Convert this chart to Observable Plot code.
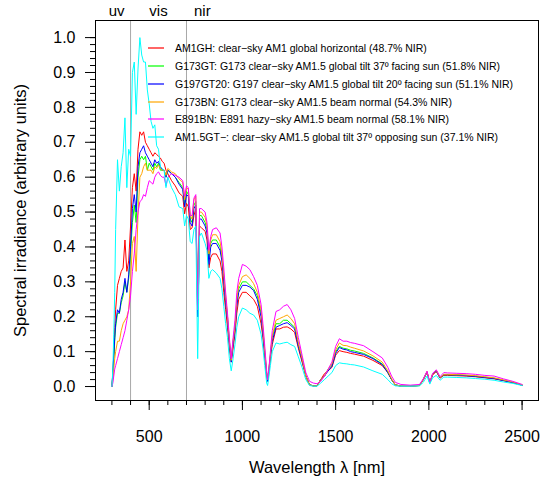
<!DOCTYPE html>
<html><head><meta charset="utf-8">
<script src="https://cdn.jsdelivr.net/npm/d3@7"></script>
<script src="https://cdn.jsdelivr.net/npm/@observablehq/plot@0.6"></script>
<style>
body{margin:0;background:#fff;}
#wrap{position:relative;width:547px;height:492px;font-family:"Liberation Sans",Arial,Helvetica,sans-serif;}
#legend{position:absolute;left:148px;top:39.4px;font-size:10.5px;color:#000;}
.row{height:17.8px;display:flex;align-items:center;white-space:nowrap;}
.sw{display:inline-block;width:16px;height:2px;margin-right:11px;opacity:0.6;}
</style></head><body><div id="wrap"></div>
<script>
const wavelength = [
  300,305,310,315,320,
  330,340,350,360,370,380,390,400,410,420,430,440,450,460,470,480,490,500,510,520,530,540,550,560,570,580,590,600,
  620,640,660,680,
  690,700,710,720,730,740,750,760,
  765,770,780,
  800,810,820,830,840,
  860,880,890,900,910,920,930,940,950,960,970,980,
  1000,1020,1040,1060,1080,1100,
  1110,1120,1130,1135,1140,1150,1160,
  1180,1200,1220,1240,1260,1280,1300,1320,1340,1360,1380,1400,
  1420,1440,1460,1480,1500,1520,1540,1560,1580,1600,
  1650,1700,1750,1780,1800,1820,1850,1900,1950,1970,1990,2005,2020,2040,2060,2080,2100,
  2150,2200,2250,2300,2350,2400,2450,2500
];
const AM1GH = [
  0,0.04,0.09,0.17,0.22,
  0.29,0.31,0.33,0.34,0.42,0.33,0.36,0.46,0.57,0.61,0.56,0.68,0.73,0.72,0.73,0.70,0.69,0.68,0.67,0.66,0.67,0.665,0.66,0.655,0.645,0.64,0.62,0.61,
  0.59,0.575,0.555,0.545,
  0.495,0.525,0.515,0.45,0.455,0.49,0.51,0.20,
  0.30,0.46,0.455,
  0.445,0.42,0.34,0.37,0.38,
  0.38,0.36,0.33,0.27,0.22,0.17,0.11,0.07,0.11,0.15,0.21,0.25,
  0.27,0.27,0.26,0.25,0.23,0.18,
  0.14,0.08,0.03,0.015,0.03,0.08,0.12,
  0.165,0.165,0.17,0.171,0.165,0.155,0.11,0.07,0.03,0.005,0.002,0.002,
  0.02,0.037,0.045,0.055,0.09,0.103,0.1,0.098,0.095,0.093,
  0.087,0.075,0.06,0.04,0.02,0.005,0.001,0.001,0.003,0.02,0.04,0.01,0.033,0.043,0.024,0.032,0.032,
  0.031,0.03,0.028,0.025,0.022,0.017,0.011,0.004
];
const G173GT = [
  0,0.03,0.08,0.13,0.17,
  0.21,0.21,0.24,0.26,0.30,0.27,0.31,0.38,0.47,0.52,0.47,0.60,0.65,0.66,0.65,0.66,0.62,0.64,0.63,0.62,0.64,0.63,0.64,0.62,0.62,0.62,0.60,0.62,
  0.61,0.60,0.585,0.57,
  0.52,0.56,0.55,0.48,0.47,0.52,0.53,0.22,
  0.32,0.49,0.49,
  0.47,0.45,0.37,0.41,0.42,
  0.42,0.40,0.37,0.31,0.25,0.20,0.13,0.08,0.13,0.17,0.24,0.28,
  0.30,0.30,0.29,0.28,0.26,0.21,
  0.16,0.10,0.04,0.02,0.04,0.09,0.14,
  0.18,0.18,0.19,0.19,0.18,0.17,0.12,0.08,0.03,0.005,0.002,0.002,
  0.02,0.03,0.05,0.06,0.10,0.115,0.11,0.108,0.104,0.102,
  0.095,0.082,0.065,0.04,0.02,0.005,0.001,0.001,0.003,0.02,0.042,0.01,0.035,0.045,0.025,0.034,0.034,
  0.033,0.032,0.03,0.027,0.024,0.018,0.012,0.004
];
const G197GT20 = [
  0,0.04,0.09,0.14,0.18,
  0.22,0.21,0.25,0.27,0.31,0.27,0.32,0.40,0.51,0.55,0.50,0.63,0.67,0.68,0.69,0.67,0.66,0.65,0.64,0.63,0.65,0.64,0.645,0.63,0.62,0.62,0.60,0.62,
  0.61,0.60,0.58,0.565,
  0.515,0.55,0.545,0.47,0.46,0.51,0.52,0.20,
  0.30,0.48,0.48,
  0.46,0.44,0.35,0.40,0.41,
  0.41,0.39,0.36,0.30,0.24,0.19,0.12,0.07,0.12,0.16,0.23,0.27,
  0.29,0.29,0.285,0.275,0.25,0.20,
  0.15,0.09,0.035,0.015,0.035,0.085,0.13,
  0.17,0.175,0.18,0.183,0.175,0.165,0.115,0.075,0.03,0.005,0.002,0.002,
  0.02,0.03,0.045,0.058,0.095,0.112,0.107,0.105,0.1,0.098,
  0.092,0.08,0.063,0.04,0.02,0.005,0.001,0.001,0.003,0.02,0.042,0.01,0.035,0.045,0.025,0.034,0.034,
  0.033,0.031,0.029,0.026,0.023,0.017,0.011,0.004
];
const G173BN = [
  0,0.02,0.05,0.08,0.10,
  0.13,0.13,0.16,0.18,0.19,0.20,0.22,0.30,0.41,0.43,0.33,0.49,0.60,0.61,0.63,0.64,0.62,0.62,0.62,0.61,0.63,0.625,0.635,0.625,0.62,0.62,0.605,0.625,
  0.615,0.61,0.595,0.585,
  0.535,0.57,0.565,0.49,0.48,0.535,0.545,0.22,
  0.32,0.50,0.50,
  0.485,0.46,0.38,0.42,0.435,
  0.435,0.415,0.38,0.32,0.26,0.20,0.13,0.075,0.13,0.17,0.25,0.29,
  0.315,0.32,0.31,0.295,0.27,0.22,
  0.165,0.10,0.04,0.02,0.04,0.09,0.145,
  0.19,0.195,0.2,0.205,0.195,0.18,0.125,0.08,0.03,0.005,0.002,0.002,
  0.02,0.03,0.05,0.065,0.105,0.125,0.118,0.117,0.113,0.11,
  0.102,0.088,0.07,0.045,0.022,0.005,0.001,0.001,0.003,0.02,0.043,0.01,0.036,0.047,0.026,0.035,0.035,
  0.034,0.033,0.031,0.028,0.025,0.019,0.013,0.005
];
const E891BN = [
  0,0.01,0.03,0.05,0.06,
  0.08,0.10,0.12,0.14,0.16,0.19,0.22,0.26,0.33,0.38,0.45,0.50,0.53,0.535,0.55,0.545,0.57,0.59,0.585,0.58,0.60,0.61,0.615,0.605,0.60,0.60,0.575,0.60,
  0.61,0.605,0.60,0.59,
  0.545,0.575,0.57,0.49,0.49,0.54,0.55,0.22,
  0.33,0.51,0.51,
  0.50,0.47,0.39,0.43,0.45,
  0.455,0.44,0.40,0.34,0.27,0.21,0.14,0.08,0.14,0.19,0.27,0.31,
  0.35,0.345,0.335,0.315,0.29,0.235,
  0.18,0.115,0.045,0.02,0.04,0.10,0.16,
  0.215,0.22,0.23,0.235,0.22,0.195,0.14,0.09,0.04,0.015,0.01,0.008,
  0.015,0.03,0.05,0.07,0.115,0.137,0.13,0.13,0.126,0.124,
  0.117,0.1,0.082,0.055,0.03,0.012,0.006,0.004,0.006,0.022,0.044,0.012,0.038,0.048,0.028,0.04,0.039,
  0.038,0.037,0.035,0.032,0.03,0.022,0.015,0.006
];
const AM15GT = [
  0,0.05,0.15,0.27,0.45,
  0.65,0.56,0.63,0.67,0.77,0.57,0.68,0.66,0.90,0.93,0.78,0.91,1.0,0.95,0.93,0.93,0.85,0.81,0.76,0.74,0.75,0.69,0.68,0.63,0.625,0.62,0.57,0.60,
  0.57,0.55,0.515,0.51,
  0.46,0.49,0.48,0.415,0.41,0.45,0.46,0.08,
  0.25,0.43,0.44,
  0.41,0.39,0.31,0.33,0.335,
  0.325,0.31,0.28,0.23,0.18,0.14,0.08,0.045,0.08,0.12,0.17,0.20,
  0.225,0.22,0.21,0.205,0.19,0.15,
  0.11,0.06,0.01,0.003,0.02,0.06,0.10,
  0.125,0.122,0.125,0.127,0.12,0.115,0.085,0.055,0.02,0.003,0.001,0.001,
  0.01,0.02,0.03,0.04,0.06,0.068,0.066,0.065,0.063,0.062,
  0.056,0.045,0.035,0.02,0.008,0.002,0.001,0.001,0.002,0.012,0.03,0.007,0.025,0.032,0.018,0.027,0.027,
  0.026,0.025,0.023,0.021,0.018,0.013,0.009,0.003
];

const seriesKeys = ["AM1GH","G173GT","G197GT20","G173BN","E891BN","AM1.5GT−"];
const seriesLabels = [
  "AM1GH: clear−sky AM1 global horizontal (48.7% NIR)",
  "G173GT: G173 clear−sky AM1.5 global tilt 37º facing sun (51.8% NIR)",
  "G197GT20: G197 clear−sky AM1.5 global tilt 20º facing sun (51.1% NIR)",
  "G173BN: G173 clear−sky AM1.5 beam normal (54.3% NIR)",
  "E891BN: E891 hazy−sky AM1.5 beam normal (58.1% NIR)",
  "AM1.5GT−: clear−sky AM1.5 global tilt 37º opposing sun (37.1% NIR)"
];
const seriesColors = ["#ff0000","#00ff00","#0000ff","#ffa500","#ff00ff","#00ffff"];
const seriesValues = [AM1GH, G173GT, G197GT20, G173BN, E891BN, AM15GT];

const bandEdges = [400, 700];
const bandNames = ["uv","vis","nir"];
const bandLabelX = [325, 550, 785];
const xMajor = [500,1000,1500,2000,2500];
const xMinor = d3.range(300, 2501, 100);
const yMajor = d3.range(0, 11).map(d => d / 10);
const yMinor = d3.range(0, 51).map(d => d / 50);

const rows = seriesKeys.flatMap((k, s) => seriesValues[s].map((v, i) => ({wl: wavelength[i], v, key: k})));
const bands = bandNames.map((n, i) => ({x: bandLabelX[i], n}));

const font = '"Liberation Sans", Arial, Helvetica, sans-serif';
const chart = Plot.plot({
  width: 547, height: 492,
  marginLeft: 95, marginRight: 9, marginTop: 20, marginBottom: 92,
  style: {fontFamily: font, fontSize: "16px", background: "white", color: "black", overflow: "visible"},
  x: {domain: [212, 2588], label: null},
  y: {domain: [-0.04, 1.049], label: null},
  color: {domain: seriesKeys, range: seriesColors},
  marks: [
    Plot.ruleX(bandEdges, {stroke: "#a8a8a8", strokeWidth: 1}),
    Plot.line(rows, {x: "wl", y: "v", z: "key", stroke: "key", strokeWidth: 1}),
    Plot.frame({stroke: "black", strokeWidth: 1}),
    Plot.axisX(xMinor, {tickSize: 5, tickFormat: () => "", label: null, strokeWidth: 1}),
    Plot.axisX(xMajor, {tickSize: 10, tickPadding: 20, tickFormat: d => String(d), label: null, fontSize: 16, strokeWidth: 1}),
    Plot.axisY(yMinor, {tickSize: 5, tickFormat: () => "", label: null, strokeWidth: 1}),
    Plot.axisY(yMajor, {tickSize: 10, tickPadding: 10, tickFormat: d3.format(".1f"), label: null, fontSize: 16, strokeWidth: 1}),
    Plot.text(bands, {x: "x", text: "n", frameAnchor: "top", dy: -9, fontSize: 15, lineAnchor: "middle"}),
    Plot.text(["Wavelength λ [nm]"], {text: d => d, frameAnchor: "bottom", dy: 67, fontSize: 16.5, lineAnchor: "middle"}),
    Plot.text(["Spectral irradiance (arbitrary units)"], {text: d => d, frameAnchor: "left", dx: -75, rotate: -90, fontSize: 16.5, lineAnchor: "middle", textAnchor: "middle"})
  ]
});
const wrap = document.getElementById("wrap");
wrap.appendChild(chart);
const legend = document.createElement("div");
legend.id = "legend";
seriesKeys.forEach((k, i) => {
  const row = document.createElement("div");
  row.className = "row";
  const sw = document.createElement("span");
  sw.className = "sw";
  sw.style.background = seriesColors[i];
  const tx = document.createElement("span");
  tx.textContent = seriesLabels[i];
  row.appendChild(sw); row.appendChild(tx);
  legend.appendChild(row);
});
wrap.appendChild(legend);
</script></body></html>
